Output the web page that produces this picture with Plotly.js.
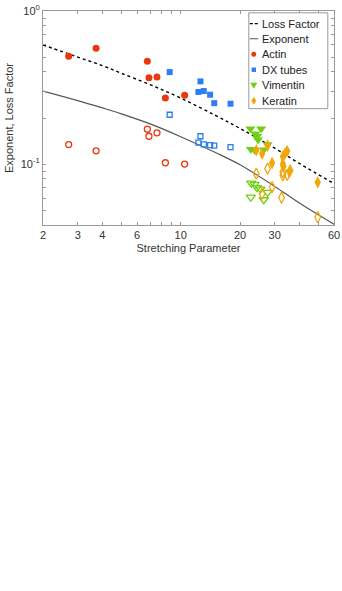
<!DOCTYPE html>
<html>
<head>
<meta charset="utf-8">
<script src="https://cdn.plot.ly/plotly-3.0.1.min.js"></script>
<style>
	html, body { margin: 0; padding: 0; background: #fff; }
	#chart { width: 342px; height: 591px; }
</style>
</head>
<body>
<div id="chart"></div>
<script>
// theory curves
var curveX = [2, 3, 4, 5, 7, 10, 15, 20, 30, 40, 60];
var lossFactor = [0.60, 0.50, 0.44, 0.392, 0.33, 0.27, 0.208, 0.171, 0.127, 0.101, 0.0745];
var exponent = [0.30, 0.26, 0.233, 0.213, 0.183, 0.151, 0.119, 0.099, 0.0715, 0.0557, 0.0405];

// Actin
var actinX = [2.70, 3.72, 6.77, 6.90, 7.58, 8.36, 10.47];
var actinLoss = [0.506, 0.570, 0.469, 0.367, 0.370, 0.270, 0.282];
var actinExp = [0.134, 0.122, 0.169, 0.152, 0.160, 0.102, 0.100];

// DX tubes
var dxX = [8.79, 12.6, 12.3, 13.1, 14.1, 14.8, 17.9];
var dxLoss = [0.399, 0.347, 0.296, 0.300, 0.284, 0.250, 0.248];
var dxExp = [0.210, 0.152, 0.138, 0.1345, 0.133, 0.132, 0.129];

// Vimentin
var vimLossX = [22.6, 25.6, 23.9, 24.4, 24.7, 22.7, 23.7, 26.4, 27.6];
var vimLoss = [0.170, 0.170, 0.158, 0.152, 0.144, 0.125, 0.123, 0.124, 0.1345];
var vimExpX = [22.8, 23.7, 24.4, 25.4, 22.7, 26.4, 27.6];
var vimExp = [0.0751, 0.0737, 0.0701, 0.0687, 0.0608, 0.0585, 0.0653];

// Keratin
var kerLossX = [27.6, 24.2, 25.9, 33.0, 34.7, 33.8, 29.1, 33.0, 36.0, 35.6, 33.2, 49.6];
var kerLoss = [0.132, 0.123, 0.117, 0.112, 0.1216, 0.117, 0.1015, 0.100, 0.091, 0.089, 0.0966, 0.076];
var kerExpX = [24.2, 27.6, 33.0, 33.0, 34.7, 29.1, 25.9, 32.5, 49.6];
var kerExp = [0.0866, 0.0933, 0.0887, 0.0844, 0.085, 0.0708, 0.064, 0.0603, 0.045];

// axis ticks
var xTicks = [2, 3, 4, 6, 10, 20, 30, 60];
var xLabels = ['2', '3', '4', '6', '10', '20', '30', '60'];
var xMinor = [5, 7, 8, 9, 40, 50];
var yTicks = [0.1, 1];
var yLabels = ['10<sup>-1</sup>', '10<sup>0</sup>'];
var yMinor = [0.04, 0.05, 0.06, 0.07, 0.08, 0.09, 0.2, 0.3, 0.4, 0.5, 0.6, 0.7, 0.8, 0.9];

var legendNames = ['Loss Factor', 'Exponent', 'Actin', 'DX tubes', 'Vimentin', 'Keratin'];

const RED = '#e8390e';
const BLUE = '#2b7ff2';
const GREEN = '#6fcf14';
const ORANGE = '#f2a60a';
const FONT = 'Liberation Sans, Arial, sans-serif';

function filled(x, y, color, symbol, size) {
	return {
		x: x, y: y, mode: 'markers', type: 'scatter',
		marker: {color: color, symbol: symbol, size: size, line: {width: 0}},
	};
}

function open(x, y, color, symbol, size) {
	return {
		x: x, y: y, mode: 'markers', type: 'scatter',
		marker: {color: 'rgba(0,0,0,0)', symbol: symbol, size: size, line: {color: color, width: 1.3}},
	};
}

var traces = [
	{x: curveX, y: exponent, mode: 'lines', type: 'scatter',
		line: {color: '#555', width: 1.2, shape: 'spline'}},
	{x: curveX, y: lossFactor, mode: 'lines', type: 'scatter',
		line: {color: '#000', width: 1.4, dash: '3px,3px', shape: 'spline'}},
	open(actinX, actinExp, RED, 'circle', 6),
	filled(actinX, actinLoss, RED, 'circle', 7),
	open(dxX, dxExp, BLUE, 'square', 5),
	filled(dxX, dxLoss, BLUE, 'square', 6),
	open(vimExpX, vimExp, GREEN, 'triangle-down', 8),
	filled(vimLossX, vimLoss, GREEN, 'triangle-down', 9),
	open(kerExpX, kerExp, ORANGE, 'diamond-tall', 8),
	filled(kerLossX, kerLoss, ORANGE, 'diamond-tall', 9),
];

// plot area in page pixels, used to place the hand drawn legend
const L = 42.7, R = 333.7, T = 10.7, B = 225;
function px(x) { return (x - L) / (R - L); }
function py(y) { return (B - y) / (B - T); }

var rowY = [23.3, 38.5, 54, 69.5, 85, 100.5];
var symX = px(253.5);

var shapes = [
	{type: 'rect', xref: 'paper', yref: 'paper', layer: 'above',
		x0: px(248.5), x1: px(327.5), y0: py(108.5), y1: py(12.5),
		line: {color: '#999', width: 1}, fillcolor: '#fff'},
	{type: 'line', xref: 'paper', yref: 'paper', layer: 'above',
		x0: px(249.5), x1: px(258), y0: py(rowY[0]), y1: py(rowY[0]),
		line: {color: '#000', width: 1.2, dash: '3px,2px'}},
	{type: 'line', xref: 'paper', yref: 'paper', layer: 'above',
		x0: px(249.5), x1: px(258), y0: py(rowY[1]), y1: py(rowY[1]),
		line: {color: '#555', width: 1}},
	{type: 'circle', xref: 'paper', yref: 'paper', layer: 'above',
		xsizemode: 'pixel', ysizemode: 'pixel', xanchor: symX, yanchor: py(rowY[2]),
		x0: -2.5, x1: 2.5, y0: -2.5, y1: 2.5,
		fillcolor: RED, line: {width: 0}},
	{type: 'rect', xref: 'paper', yref: 'paper', layer: 'above',
		xsizemode: 'pixel', ysizemode: 'pixel', xanchor: symX, yanchor: py(rowY[3]),
		x0: -2.2, x1: 2.2, y0: -2.2, y1: 2.2,
		fillcolor: BLUE, line: {width: 0}},
	{type: 'path', xref: 'paper', yref: 'paper', layer: 'above',
		xsizemode: 'pixel', ysizemode: 'pixel', xanchor: symX, yanchor: py(rowY[4]),
		path: 'M -3.5 2.5 L 3.5 2.5 L 0 -3.5 Z',
		fillcolor: GREEN, line: {width: 0}},
	{type: 'path', xref: 'paper', yref: 'paper', layer: 'above',
		xsizemode: 'pixel', ysizemode: 'pixel', xanchor: symX, yanchor: py(rowY[5]),
		path: 'M 0 4 L 2.5 0 L 0 -4 L -2.5 0 Z',
		fillcolor: ORANGE, line: {width: 0}},
];

var annotations = legendNames.map(function(name, i) {
	return {
		text: name, xref: 'paper', yref: 'paper', showarrow: false,
		x: px(259.5), y: py(rowY[i]), xanchor: 'left', yanchor: 'middle',
		font: {family: FONT, size: 11, color: '#222'},
	};
});

const layout = {
	width: 342,
	height: 591,
	margin: {l: 43, r: 8, t: 11, b: 366},
	paper_bgcolor: '#fff',
	plot_bgcolor: '#fff',
	showlegend: false,
	font: {family: FONT, size: 11, color: '#333'},
	xaxis: {
		type: 'log',
		range: [Math.log10(2), Math.log10(60)],
		tickmode: 'array',
		tickvals: xTicks,
		ticktext: xLabels,
		ticks: 'inside',
		ticklen: 3,
		tickcolor: '#999',
		minor: {tickmode: 'array', tickvals: xMinor, ticks: 'inside', ticklen: 3, tickcolor: '#999', showgrid: false},
		showline: true,
		linecolor: '#999',
		mirror: 'ticks',
		showgrid: false,
		zeroline: false,
		automargin: false,
		tickfont: {size: 11, color: '#333'},
		title: {text: 'Stretching Parameter', standoff: 4, font: {size: 11, color: '#333'}},
	},
	yaxis: {
		type: 'log',
		range: [Math.log10(0.04), 0],
		tickmode: 'array',
		tickvals: yTicks,
		ticktext: yLabels,
		ticks: 'inside',
		ticklen: 3,
		tickcolor: '#999',
		minor: {tickmode: 'array', tickvals: yMinor, ticks: 'inside', ticklen: 3, tickcolor: '#999', showgrid: false},
		showline: true,
		linecolor: '#999',
		mirror: 'ticks',
		showgrid: false,
		zeroline: false,
		automargin: false,
		tickfont: {size: 11, color: '#333'},
		title: {text: 'Exponent, Loss Factor', standoff: 4, font: {size: 11, color: '#333'}},
	},
	shapes: shapes,
	annotations: annotations,
};

Plotly.newPlot('chart', traces, layout, {displayModeBar: false, staticPlot: true});
</script>
</body>
</html>
